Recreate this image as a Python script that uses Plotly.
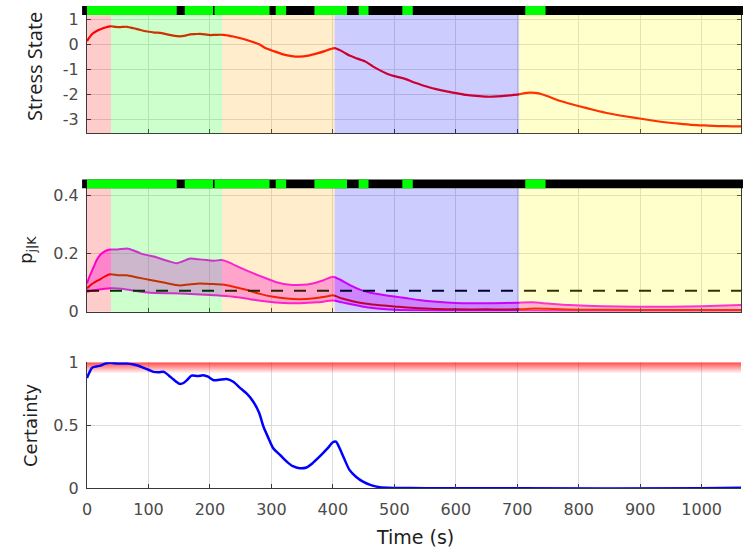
import plotly.graph_objects as go

# ---------------- data ----------------
t_stress = [0, 8, 15, 22, 30, 38, 46, 54, 65, 76, 87, 98, 110, 119, 130, 140, 151, 160, 168, 176,
            184, 192, 200, 210, 222, 230, 238, 250, 265, 280, 292, 305, 319, 333, 346, 360, 373, 388,
            396, 403, 410, 418, 427, 440, 454, 465, 476, 488, 500, 510, 520, 530, 541, 555, 568, 585,
            601, 617, 633, 650, 660, 675, 687, 702, 712, 720, 730, 740, 752, 763, 780, 801, 825, 850,
            875, 899, 925, 948, 970, 991, 1010, 1029, 1050, 1064]
stress = [0.13, 0.40, 0.52, 0.60, 0.67, 0.72, 0.70, 0.69, 0.70, 0.64, 0.57, 0.51, 0.47, 0.46, 0.40,
          0.35, 0.32, 0.35, 0.40, 0.41, 0.42, 0.40, 0.37, 0.38, 0.38, 0.35, 0.31, 0.24, 0.13, 0.00,
          -0.17, -0.28, -0.40, -0.47, -0.49, -0.45, -0.37, -0.26, -0.19, -0.15, -0.22, -0.32, -0.45,
          -0.57, -0.70, -0.88, -1.03, -1.17, -1.27, -1.33, -1.40, -1.50, -1.59, -1.70, -1.79, -1.88,
          -1.95, -2.02, -2.06, -2.09, -2.09, -2.07, -2.04, -2.00, -1.95, -1.93, -1.94, -1.99, -2.09,
          -2.20, -2.33, -2.47, -2.62, -2.76, -2.87, -2.96, -3.06, -3.13, -3.18, -3.22, -3.24, -3.26,
          -3.27, -3.27]

t_upper = [0, 5, 11, 16, 22, 30, 38, 50, 65, 76, 87, 100, 114, 125, 138, 146, 155, 168, 180, 195,
           207, 219, 230, 249, 270, 292, 310, 330, 350, 367, 385, 400, 410, 427, 445, 461, 480, 500,
           515, 540, 569, 600, 624, 660, 702, 725, 750, 785, 840, 894, 950, 1000, 1064]
p_upper = [0.097, 0.125, 0.154, 0.178, 0.196, 0.208, 0.213, 0.213, 0.217, 0.210, 0.200, 0.193, 0.186,
           0.178, 0.170, 0.166, 0.172, 0.182, 0.180, 0.177, 0.175, 0.177, 0.170, 0.151, 0.132, 0.114,
           0.100, 0.092, 0.092, 0.097, 0.108, 0.120, 0.112, 0.092, 0.075, 0.065, 0.058, 0.052, 0.048,
           0.040, 0.034, 0.030, 0.029, 0.029, 0.031, 0.032, 0.028, 0.023, 0.019, 0.017, 0.017, 0.019,
           0.023]

t_mid = [0, 8, 15, 22, 30, 38, 50, 65, 80, 103, 125, 151, 165, 184, 200, 219, 240, 259, 280, 303,
         325, 346, 370, 390, 400, 415, 432, 455, 476, 500, 515, 540, 569, 600, 650, 702, 730, 760, 800,
         900, 1000, 1064]
p_mid = [0.080, 0.095, 0.104, 0.112, 0.122, 0.128, 0.125, 0.125, 0.118, 0.109, 0.100, 0.090, 0.093,
         0.097, 0.095, 0.093, 0.085, 0.075, 0.062, 0.051, 0.045, 0.043, 0.046, 0.052, 0.056, 0.045,
         0.036, 0.027, 0.022, 0.018, 0.015, 0.012, 0.009, 0.008, 0.008, 0.008, 0.011, 0.009, 0.007,
         0.006, 0.006, 0.006]

t_lower = [0, 15, 38, 60, 80, 103, 140, 184, 210, 238, 265, 292, 320, 346, 375, 400, 415, 432, 455,
           476, 500, 540, 600, 700, 800, 1064]
p_lower = [0.068, 0.074, 0.080, 0.078, 0.071, 0.065, 0.063, 0.059, 0.056, 0.051, 0.043, 0.035, 0.030,
           0.029, 0.032, 0.038, 0.032, 0.025, 0.015, 0.010, 0.007, 0.005, 0.004, 0.004, 0.003, 0.003]

threshold = 0.072

t_cert = [0, 4, 8, 15, 22, 30, 38, 50, 65, 76, 85, 92, 100, 108, 117, 125, 133, 141, 151, 157, 163,
          170, 180, 189, 197, 206, 215, 227, 238, 249, 260, 270, 280, 287, 295, 303, 315, 325, 335,
          346, 357, 367, 377, 384, 392, 400, 405, 411, 418, 427, 438, 449, 462, 476, 500, 550, 700,
          1000, 1064]
certainty = [0.875, 0.920, 0.955, 0.966, 0.973, 0.990, 0.995, 0.990, 0.990, 0.982, 0.970, 0.955,
             0.940, 0.923, 0.920, 0.923, 0.895, 0.862, 0.828, 0.835, 0.860, 0.894, 0.890, 0.897,
             0.885, 0.857, 0.860, 0.867, 0.845, 0.796, 0.750, 0.690, 0.600, 0.490, 0.400, 0.318,
             0.260, 0.212, 0.175, 0.159, 0.165, 0.199, 0.245, 0.279, 0.320, 0.365, 0.370, 0.318,
             0.240, 0.146, 0.090, 0.053, 0.025, 0.008, 0.003, 0.001, 0.000, 0.000, 0.005]
certainty_band = [0.91, 1.0]

# stage boundaries (s) and stage shading colours
stage_edges = [0, 39, 220, 403, 703, 1064]
stage_colors = ["rgba(255,0,0,0.2)", "rgba(0,255,0,0.2)", "rgba(255,165,0,0.2)",
                "rgba(0,0,255,0.2)", "rgba(255,255,0,0.2)"]

# green (active) intervals of the status bar
green_start = [0, 159, 207.5, 307, 370, 442, 513, 713]
green_end = [146, 205, 297, 324, 423, 458, 530, 746]

x_range = [0, 1064]
stress_ticks = [-3, -2, -1, 0, 1]
stress_ticktext = ["-3", "-2", "-1", "0", "1"]
p_ticks = [0, 0.2, 0.4]
p_ticktext = ["0", "0.2", "0.4"]
cert_ticks = [0, 0.5, 1]
cert_ticktext = ["0", "0.5", "1"]
time_ticks = [0, 100, 200, 300, 400, 500, 600, 700, 800, 900, 1000]

# ---------------- layout geometry ----------------
H = 551.0
def pfy(px):
    return 1 - px / H

dom1 = [pfy(133.3), pfy(15.0)]
dom2 = [pfy(311.7), pfy(188.3)]
dom3 = [pfy(488.3), pfy(362.2)]
bar1 = [pfy(15.0), pfy(6.0)]
bar2 = [pfy(188.3), pfy(179.5)]

fig = go.Figure()

spl = dict(shape="spline", smoothing=0.6)

# Panel 1: stress state
fig.add_trace(go.Scatter(x=t_stress, y=stress, mode="lines", line=dict(color="rgb(255,0,0)", width=2.2, **spl),
                         xaxis="x", yaxis="y", showlegend=False, hoverinfo="skip"))

# Panel 2: probability envelope
fig.add_trace(go.Scatter(x=t_lower, y=p_lower, mode="lines", line=dict(color="rgb(255,0,255)", width=2, **spl),
                         xaxis="x2", yaxis="y2", showlegend=False, hoverinfo="skip"))
fig.add_trace(go.Scatter(x=t_upper, y=p_upper, mode="lines", line=dict(color="rgb(255,0,255)", width=2, **spl),
                         fill="tonexty", fillcolor="rgba(255,0,255,0.35)",
                         xaxis="x2", yaxis="y2", showlegend=False, hoverinfo="skip"))
fig.add_trace(go.Scatter(x=t_mid, y=p_mid, mode="lines", line=dict(color="rgb(240,0,0)", width=2, **spl),
                         xaxis="x2", yaxis="y2", showlegend=False, hoverinfo="skip"))
fig.add_trace(go.Scatter(x=x_range, y=[threshold, threshold], mode="lines",
                         line=dict(color="black", width=2, dash="12px,11px"),
                         xaxis="x2", yaxis="y2", showlegend=False, hoverinfo="skip"))

# Panel 3: certainty with gradient band
fig.add_trace(go.Scatter(x=[x_range[0], x_range[1], x_range[1], x_range[0]],
                         y=[certainty_band[1], certainty_band[1], certainty_band[0], certainty_band[0]],
                         mode="lines", line=dict(width=0), fill="toself",
                         fillgradient=dict(type="vertical",
                                           colorscale=[[0, "rgba(255,0,0,0)"], [1, "rgba(255,0,0,0.72)"]]),
                         xaxis="x3", yaxis="y3", showlegend=False, hoverinfo="skip"))
fig.add_trace(go.Scatter(x=t_cert, y=certainty, mode="lines", line=dict(color="rgb(0,0,255)", width=2.5, **spl),
                         xaxis="x3", yaxis="y3", showlegend=False, hoverinfo="skip"))

shapes = []
for xa, ya in [("x", "y"), ("x2", "y2")]:
    for i, c in enumerate(stage_colors):
        shapes.append(dict(type="rect", xref=xa, yref=ya + " domain", x0=stage_edges[i], x1=stage_edges[i + 1],
                           y0=0, y1=1, fillcolor=c, line=dict(width=0), layer="above"))

for xa, (b0, b1) in [("x", bar1), ("x2", bar2)]:
    shapes.append(dict(type="rect", xref="paper", yref="paper", x0=-0.0075, x1=1.003, y0=b0, y1=b1,
                       fillcolor="black", line=dict(width=0), layer="above"))
    for s, e in zip(green_start, green_end):
        shapes.append(dict(type="rect", xref=xa, yref="paper", x0=s, x1=e, y0=b0, y1=b1,
                           fillcolor="rgb(0,255,0)", line=dict(width=0), layer="above"))

tickfont = dict(family="DejaVu Sans, sans-serif", size=16, color="#4a4a4a")
axcol = "#3a3a3a"
gridcol = "#dcdcdc"

def xax(domain_anchor, show_labels):
    return dict(domain=[0, 1], range=x_range, anchor=domain_anchor, tickvals=time_ticks,
                showticklabels=show_labels, ticks="inside", ticklen=4, tickcolor=axcol,
                showline=True, linecolor=axcol, linewidth=1, showgrid=True, gridcolor=gridcol,
                zeroline=False, tickfont=tickfont, fixedrange=True, ticklabelstandoff=6,
                automargin=False)

def yax(domain, anchor, rng, tv, tt, mirror):
    return dict(domain=domain, range=rng, anchor=anchor, tickvals=tv, ticktext=tt,
                ticks="inside", ticklen=4, tickcolor=axcol, showline=True, linecolor=axcol,
                linewidth=1, mirror=mirror, showgrid=True, gridcolor=gridcol, zeroline=False,
                tickfont=tickfont, fixedrange=True, ticklabelstandoff=4, automargin=False)

titlefont = dict(family="DejaVu Sans, sans-serif", size=18, color="#202020")

annotations = [
    dict(text="Stress State", xref="paper", yref="paper", x=(35 - 87) / 654, y=pfy(67), textangle=-90,
         showarrow=False, font=dict(family="Open Sans, sans-serif", size=20, color="#202020"),
         xanchor="center", yanchor="middle"),
    dict(text="p<sub>j|K</sub>", xref="paper", yref="paper", x=(27 - 87) / 654, y=pfy(250), textangle=-90,
         showarrow=False, font=titlefont, xanchor="center", yanchor="middle"),
    dict(text="Certainty", xref="paper", yref="paper", x=(30 - 87) / 654, y=pfy(425), textangle=-90,
         showarrow=False, font=titlefont, xanchor="center", yanchor="middle"),
    dict(text="Time (s)", xref="paper", yref="paper", x=(415 - 87) / 654, y=pfy(537),
         showarrow=False, font=dict(family="DejaVu Sans, sans-serif", size=19, color="#202020"),
         xanchor="center", yanchor="middle"),
]

fig.update_layout(
    width=744, height=551,
    margin=dict(l=87, r=3, t=0, b=0, autoexpand=False),
    paper_bgcolor="white", plot_bgcolor="white",
    xaxis=xax("y", False),
    yaxis=yax(dom1, "x", [-3.55, 1.17], stress_ticks, stress_ticktext, "ticks"),
    xaxis2=xax("y2", False),
    yaxis2=yax(dom2, "x2", [0, 0.423], p_ticks, p_ticktext, "ticks"),
    xaxis3=xax("y3", True),
    yaxis3=yax(dom3, "x3", [0, 1.0], cert_ticks, cert_ticktext, False),
    shapes=shapes,
    annotations=annotations,
    showlegend=False,
)

fig.write_html("out.html", config={"displayModeBar": False},
               post_script="document.body.style.margin='0px';")
